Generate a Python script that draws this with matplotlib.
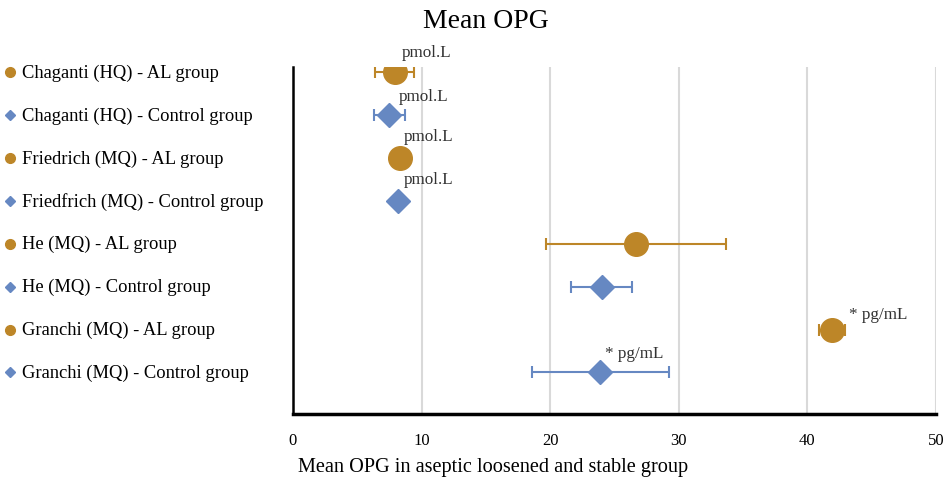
import matplotlib
matplotlib.use("Agg")
import matplotlib.pyplot as plt
from matplotlib.transforms import blended_transform_factory

plt.rcParams['font.family'] = ['Liberation Serif', 'DejaVu Serif']

labels = ["Chaganti (HQ) - AL group", "Chaganti (HQ) - Control group",
          "Friedrich (MQ) - AL group", "Friedfrich (MQ) - Control group",
          "He (MQ) - AL group", "He (MQ) - Control group",
          "Granchi (MQ) - AL group", "Granchi (MQ) - Control group"]
means = [7.9, 7.5, 8.3, 8.2, 26.7, 24.0, 41.9, 23.9]
errs = [1.5, 1.2, 0, 0, 7.0, 2.35, 1.0, 5.3]
groups = ["AL", "Control", "AL", "Control", "AL", "Control", "AL", "Control"]
notes = ["pmol.L", "pmol.L", "pmol.L", "pmol.L", "", "", "* pg/mL", "* pg/mL"]
note_offsets = [(5, 14.4), (7, 13.7), (3, 15.8), (3.6, 15.8), (0, 0), (0, 0), (12, 11), (3, 13.7)]

gold = "#BD8628"
blue = "#6688C2"
style = {"AL": (gold, "o", 17), "Control": (blue, "D", 12)}

fig = plt.figure(figsize=(9.5, 4.85), dpi=100)
ax = fig.add_axes([0.3084, 0.1443, 0.6769, 0.7155])

ypos = list(range(len(labels), 0, -1))
trans = blended_transform_factory(fig.transFigure, ax.transData)

for lab, m, e, g, y, note, off in zip(labels, means, errs, groups, ypos, notes, note_offsets):
    col, mk, ms = style[g]
    ax.errorbar(m, y, xerr=e if e > 0 else None, fmt=mk, color=col, ms=ms,
                ecolor=col, elinewidth=1.5, capsize=4, capthick=1.5, zorder=3)
    if note:
        ax.annotate(note, (m, y), xytext=off, textcoords="offset points",
                    ha="left", va="center", fontsize=12.3, color="#333333")
    # left-side legend
    ax.plot([0.0105], [y], marker=mk, color=col, ms=7 if mk == "o" else 5.5,
            transform=trans, clip_on=False, linestyle="none")
    ax.text(0.023, y, lab, transform=trans, va="center", ha="left", fontsize=13.3)

ax.set_xlim(0, 50)
ax.set_ylim(0.03, 8.12)
ax.set_xticks([0, 10, 20, 30, 40, 50])
ax.set_yticks([])
ax.tick_params(axis="x", length=0, pad=13, labelsize=12)
ax.grid(axis="x", color="#d9d9d9", linewidth=1.5, zorder=0)
ax.set_axisbelow(True)
for s in ["top", "right"]:
    ax.spines[s].set_visible(False)
ax.spines["left"].set_linewidth(1.8)
ax.spines["bottom"].set_linewidth(2.5)

fig.text(0.511, 0.955, "Mean OPG", ha="center", va="center", fontsize=20)
fig.text(0.314, 0.037, "Mean OPG in aseptic loosened and stable group",
         ha="left", va="center", fontsize=14.6)

fig.savefig("out.png", dpi=100)
